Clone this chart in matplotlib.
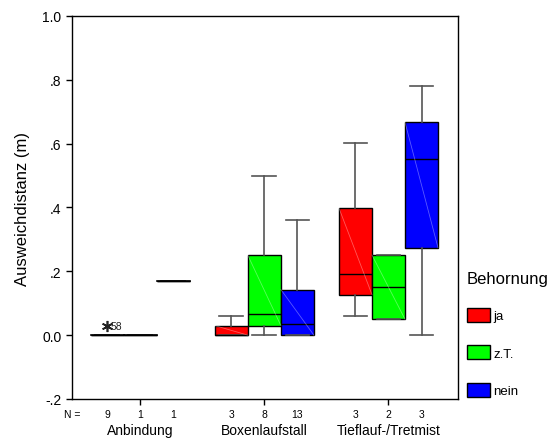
import matplotlib
matplotlib.use("Agg")
import matplotlib.pyplot as plt
from matplotlib.patches import Patch

plt.rcParams['font.family'] = ['Liberation Sans', 'DejaVu Sans']

groups = ["Anbindung", "Boxenlaufstall", "Tieflauf-/Tretmist"]
series = ["ja", "z.T.", "nein"]
colors = ["#FF0000", "#00FF00", "#0000FF"]
# per group, per series
counts = [[9, 1, 1], [3, 8, 13], [3, 2, 3]]
whislo = [[0.0, 0.0, 0.17], [0.0, 0.0, 0.0], [0.06, 0.05, 0.0]]
q1 = [[0.0, 0.0, 0.17], [0.0, 0.03, 0.0], [0.127, 0.05, 0.274]]
med = [[0.0, 0.0, 0.17], [0.0, 0.067, 0.034], [0.193, 0.151, 0.552]]
q3 = [[0.0, 0.0, 0.17], [0.03, 0.25, 0.143], [0.398, 0.251, 0.667]]
whishi = [[0.0, 0.0, 0.17], [0.06, 0.50, 0.36], [0.602, 0.251, 0.78]]
outlier_group = 0
outlier_series = 0
outlier_value = 0.03
outlier_label = "58"

fig = plt.figure(figsize=(5.48, 4.39), dpi=100)
ax = fig.add_axes([72/548, 1 - 400/439, (458-72)/548, (400-17)/439])

offset = 0.266
width = 0.266
for g in range(3):
    for s in range(3):
        pos = g + 1 + (s - 1) * offset
        st = dict(med=med[g][s], q1=q1[g][s], q3=q3[g][s],
                  whislo=whislo[g][s], whishi=whishi[g][s], fliers=[])
        res = ax.bxp([st], positions=[pos], widths=[width], patch_artist=True,
                     showfliers=False, capwidths=[width * 0.72],
                     boxprops=dict(facecolor=colors[s], edgecolor='black', linewidth=1.0),
                     medianprops=dict(color='black', linewidth=1.0),
                     whiskerprops=dict(color='#555555', linewidth=1.2),
                     capprops=dict(color='#555555', linewidth=1.2))
        if q3[g][s] > q1[g][s]:
            ax.plot([pos - width/2, pos + width/2], [q3[g][s], q1[g][s]],
                    color='white', alpha=0.35, linewidth=0.6, zorder=3)
        else:
            ax.plot([pos - width/2, pos + width/2], [med[g][s], med[g][s]],
                    color='black', linewidth=1.2, zorder=3)

# outlier
opos = outlier_group + 1 + (outlier_series - 1) * offset
ax.plot([opos], [outlier_value], marker=(6, 2, 0), color='#222222',
        markersize=8, markeredgewidth=1.2, linestyle='none', zorder=4)
ax.text(opos + 0.03, outlier_value, outlier_label, fontsize=7.5, va='center',
        ha='left', color='#222222')

ax.set_ylim(-0.2, 1.0)
ax.set_xlim(0.45, 3.56)
yt = [-0.2, 0.0, 0.2, 0.4, 0.6, 0.8, 1.0]
ax.set_yticks(yt)
ax.set_yticklabels(["-.2", "0.0", ".2", ".4", ".6", ".8", "1.0"], fontsize=10)
ax.tick_params(axis='y', direction='out', length=4, width=1)
ax.set_xticks([1, 2, 3])
ax.set_xticklabels(groups, fontsize=10)
ax.tick_params(axis='x', direction='out', length=4, width=1, pad=13)
ax.set_ylabel("Ausweichdistanz (m)", fontsize=12, labelpad=9)
for sp in ax.spines.values():
    sp.set_linewidth(1.0)

# N row
trans = ax.get_xaxis_transform()
ax.text(0.45, -0.025, "N =", transform=trans, fontsize=7.5, ha='center', va='top')
for g in range(3):
    for s in range(3):
        pos = g + 1 + (s - 1) * offset
        ax.text(pos, -0.025, str(counts[g][s]), transform=trans, fontsize=7.5,
                ha='center', va='top')

handles = [Patch(facecolor=c, edgecolor='black', label=l) for c, l in zip(colors, series)]
leg = fig.legend(handles=handles, title="Behornung", loc='upper left',
                 bbox_to_anchor=(460/548, 1 - 265/439), frameon=False,
                 fontsize=9.5, title_fontsize=12, handlelength=1.8, handleheight=1.25,
                 labelspacing=1.75, handletextpad=0.25, borderpad=0.0)
leg._legend_box.align = "left"
leg._legend_box.sep = 16

fig.savefig("out.png", dpi=100)
